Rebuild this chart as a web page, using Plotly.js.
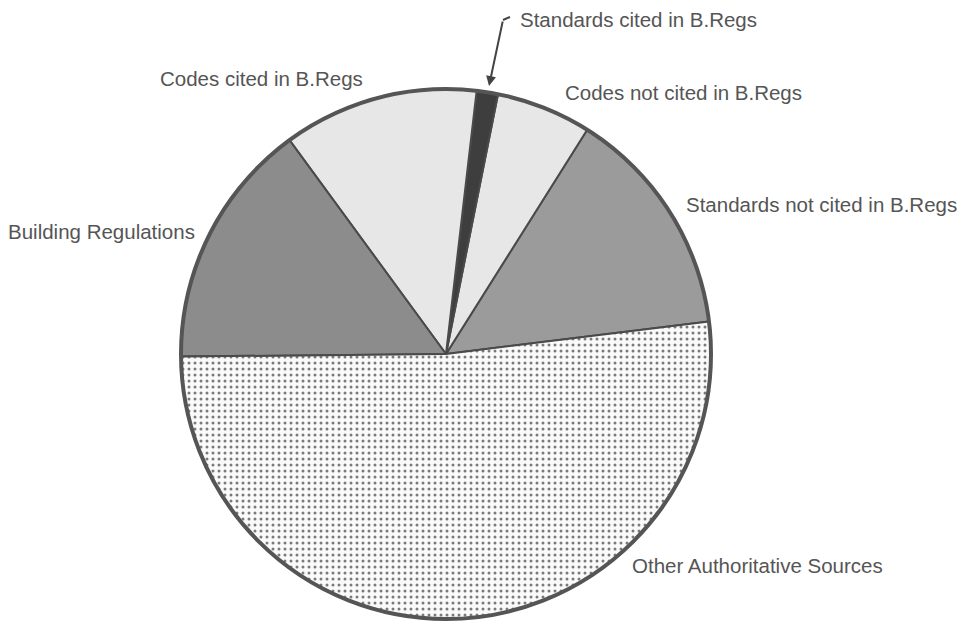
<!DOCTYPE html>
<html>
<head>
<meta charset="utf-8">
<script src="https://cdn.plot.ly/plotly-3.0.1.min.js"></script>
<style>html,body{margin:0;padding:0;background:#fff;}#chart{width:968px;height:624px;}</style>
</head>
<body>
<div id="chart"></div>
<script>
// Data (percent shares), counterclockwise from ~3 o'clock
var categories = ["Standards not cited in B.Regs", "Codes not cited in B.Regs", "Standards cited in B.Regs",
                  "Codes cited in B.Regs", "Building Regulations", "Other Authoritative Sources"];
var shares = [14.1, 5.8, 1.3, 11.9, 15.1, 51.8];
var sliceColors = ["#9b9b9b", "#e7e7e7", "#3e3e3e", "#e7e7e7", "#8c8c8c", "#fafafa"];
var sliceShapes = ["", "", "", "", "", "."];

var W = 968, H = 624;
function fx(p){ return p / W; }
function fy(p){ return 1 - p / H; }

var cx = 446, cy = 354, R = 265;

var trace = {
  type: "pie",
  labels: categories,
  values: shares,
  sort: false,
  direction: "counterclockwise",
  rotation: 32.2,
  textinfo: "none",
  hoverinfo: "skip",
  showlegend: false,
  domain: {x: [fx(cx - R), fx(cx + R)], y: [fy(cy + R), fy(cy - R)]},
  marker: {
    colors: sliceColors,
    line: {color: "#4a4a4a", width: 2},
    pattern: {shape: sliceShapes, fgcolor: "#7a7a7a", bgcolor: "#fafafa", size: 6, solidity: 0.2}
  }
};

var labelFont = {family: "Liberation Sans, Arial, sans-serif", size: 20.5, color: "#555"};
function lab(text, x, y){
  return {text: text, xref: "paper", yref: "paper", x: fx(x), y: fy(y),
          xanchor: "left", yanchor: "middle", showarrow: false, font: labelFont};
}

var layout = {
  width: W, height: H,
  margin: {l: 0, r: 0, t: 0, b: 0},
  paper_bgcolor: "#ffffff",
  showlegend: false,
  annotations: [
    lab(categories[2], 518, 19),
    lab(categories[1], 563, 92),
    lab(categories[3], 158, 78),
    lab(categories[0], 684, 205),
    lab(categories[4], 6, 231),
    lab(categories[5], 630, 565),
    {text: "", xref: "paper", yref: "paper", x: fx(489), y: fy(86), axref: "pixel", ayref: "pixel",
     ax: 14, ay: -66, showarrow: true, arrowhead: 2, arrowsize: 1, arrowwidth: 2, arrowcolor: "#444", standoff: 0}
  ],
  shapes: [
    {type: "circle", xref: "paper", yref: "paper", x0: fx(cx - R), x1: fx(cx + R), y0: fy(cy + R), y1: fy(cy - R),
     line: {color: "#555", width: 4}},
    {type: "line", xref: "paper", yref: "paper", x0: fx(503), y0: fy(20), x1: fx(510), y1: fy(17),
     line: {color: "#444", width: 2}}
  ]
};

Plotly.newPlot("chart", [trace], layout, {displayModeBar: false, staticPlot: true});
</script>
</body>
</html>
